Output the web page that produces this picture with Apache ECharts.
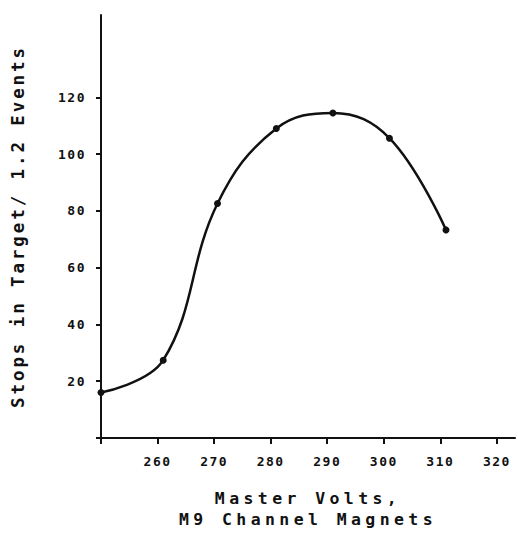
<!DOCTYPE html>
<html>
<head>
<meta charset="utf-8">
<script src="https://cdn.jsdelivr.net/npm/echarts@6/dist/echarts.min.js"></script>
<style>
html,body{margin:0;padding:0;background:#fff;}
#c{width:518px;height:535px;}
</style>
</head>
<body>
<div id="c"></div>
<script>
const xValues = [250, 261, 270.6, 281, 291, 301, 311];
const yValues = [16, 27.4, 82.6, 109, 114.5, 105.6, 73.3];
const xTicks = [250, 260, 270, 280, 290, 300, 310, 320];
const xTickLabels = [260, 270, 280, 290, 300, 310, 320];
const yTicks = [0, 20, 40, 60, 80, 100, 120];
const yTickLabels = [20, 40, 60, 80, 100, 120];
const xTitle = 'Master Volts,\nM9 Channel Magnets';
const yTitle = 'Stops in Target/ 1.2 Events';

const font = '"DejaVu Sans Mono", monospace';
const chart = echarts.init(document.getElementById('c'), null, {renderer: 'svg'});
chart.setOption({
  backgroundColor: '#fff',
  animation: false,
  grid: {left: 101, right: 3, top: 15, bottom: 97, containLabel: false, outerBoundsMode: 'none'},
  xAxis: {
    type: 'value', min: 250, max: 323.2,
    axisLine: {lineStyle: {color: '#111', width: 2}},
    axisTick: {show: true, customValues: xTicks, length: 6, inside: false, lineStyle: {color: '#111', width: 2}},
    axisLabel: {customValues: xTickLabels, margin: 17, color: '#111', fontFamily: font, fontWeight: 'bold', fontSize: 13},
    splitLine: {show: false},
    name: xTitle, nameLocation: 'middle', nameGap: 50,
    nameTextStyle: {color: '#111', fontFamily: font, fontWeight: 'bold', fontSize: 16.5, lineHeight: 21}
  },
  yAxis: {
    type: 'value', min: 0, max: 149,
    axisLine: {lineStyle: {color: '#111', width: 2}},
    axisTick: {show: true, customValues: yTicks, length: 5, lineStyle: {color: '#111', width: 2}},
    axisLabel: {customValues: yTickLabels, margin: 15, color: '#111', fontFamily: font, fontWeight: 'bold', fontSize: 13},
    splitLine: {show: false},
    name: yTitle, nameLocation: 'middle', nameGap: 74, nameRotate: 90,
    nameTextStyle: {color: '#111', fontFamily: font, fontWeight: 'bold', fontSize: 17.5}
  },
  series: [{
    type: 'line',
    data: xValues.map((x, i) => [x, yValues[i]]),
    smooth: 0.4,
    symbol: 'circle', symbolSize: 7,
    itemStyle: {color: '#111'},
    lineStyle: {color: '#111', width: 2.5}
  }]
});
// widen letter spacing to mimic the plotter lettering
function spaceText() {
  document.querySelectorAll('#c svg text').forEach(t => {
    const fs = parseFloat(getComputedStyle(t).fontSize) || 12;
    let ls = 1.5;
    if (fs >= 17) ls = 2.9; else if (fs >= 15) ls = 4.4;
    t.style.letterSpacing = ls + 'px';
  });
}
spaceText();
chart.on('finished', spaceText);
</script>
</body>
</html>
